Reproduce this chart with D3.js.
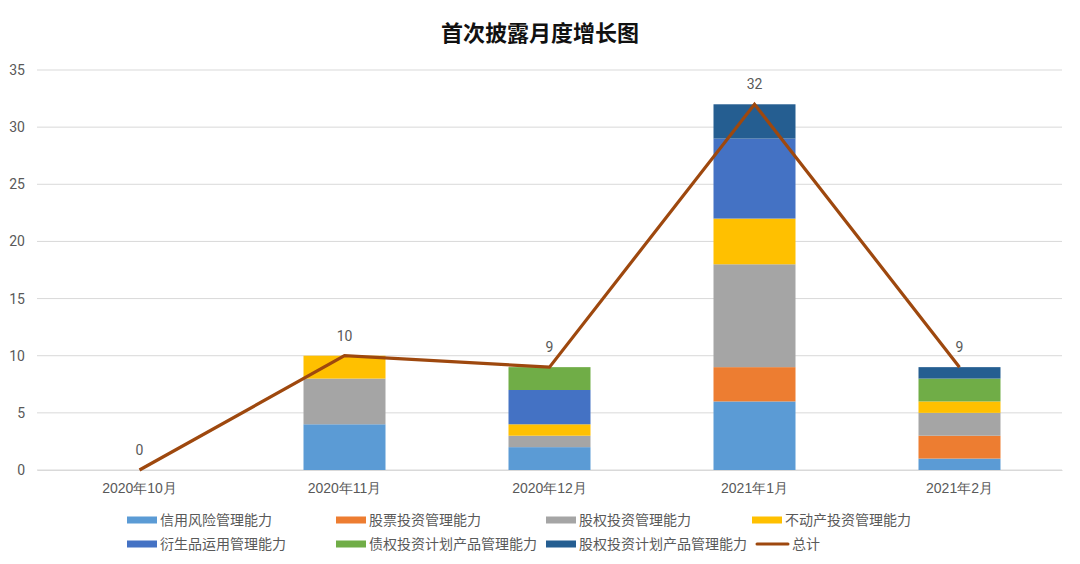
<!DOCTYPE html>
<html><head><meta charset="utf-8">
<script src="https://cdn.jsdelivr.net/npm/d3@7"></script>
<style>
body{margin:0;background:#fff;}
svg{display:block;font-family:"Noto Sans CJK SC","Noto Sans",sans-serif;}
</style></head>
<body><svg id="c" width="1080" height="564"></svg>
<script>
const categories = ["2020年10月","2020年11月","2020年12月","2021年1月","2021年2月"];
const seriesNames = ["信用风险管理能力","股票投资管理能力","股权投资管理能力","不动产投资管理能力","衍生品运用管理能力","债权投资计划产品管理能力","股权投资计划产品管理能力"];
const creditRisk = [0,4,2,6,1];
const stock = [0,0,0,3,2];
const equity = [0,4,1,9,2];
const realEstate = [0,2,1,4,1];
const derivatives = [0,0,3,7,0];
const debtPlan = [0,0,2,0,2];
const equityPlan = [0,0,0,3,1];
const total = [0,10,9,32,9];
const yTicks = [0,5,10,15,20,25,30,35];
const colors = ["#5B9BD5","#ED7D31","#A5A5A5","#FFC000","#4472C4","#70AD47","#255E91"];
const lineColor = "#9E480E";
const lineName = "总计";

(function(){
const seriesVals = [creditRisk,stock,equity,realEstate,derivatives,debtPlan,equityPlan];
const svg = d3.select("#c");
const pl = 37, pr = 1062, pt = 70, pb = 470;

const x = d3.scaleBand().domain(categories).range([pl,pr]).paddingInner(0.6).paddingOuter(0.3);
const y = d3.scaleLinear().domain([0,35]).range([pb,pt]);

// title
svg.append("text").attr("x",540).attr("y",41).attr("text-anchor","middle")
  .attr("font-size",22).attr("font-weight","bold").attr("fill","#111").text("首次披露月度增长图");

// gridlines
svg.append("g").selectAll("line").data(yTicks).join("line")
  .attr("x1",pl).attr("x2",pr).attr("y1",d=>y(d)).attr("y2",d=>y(d))
  .attr("stroke","#d9d9d9").attr("stroke-width",1);

// y axis labels
const yAxis = d3.axisLeft(y).tickValues(yTicks).tickSize(0).tickPadding(0);
const yg = svg.append("g").attr("transform",`translate(25,0)`).call(yAxis);
yg.select(".domain").remove();
yg.selectAll("text").attr("font-size",14).attr("fill","#595959").attr("font-family","Roboto, 'Noto Sans', sans-serif");

// stacked bars
const table = categories.map((c,i)=>{const o={cat:c}; seriesNames.forEach((s,j)=>o[s]=seriesVals[j][i]); return o;});
const stacked = d3.stack().keys(seriesNames)(table);
svg.append("g").selectAll("g").data(stacked).join("g").attr("fill",(d,i)=>colors[i])
  .selectAll("rect").data(d=>d).join("rect")
  .attr("x",d=>x(d.data.cat)).attr("width",x.bandwidth())
  .attr("y",d=>y(d[1])).attr("height",d=>Math.max(0,y(d[0])-y(d[1])));

// x axis
const xAxis = d3.axisBottom(x).tickSize(0).tickPadding(13);
const xg = svg.append("g").attr("transform",`translate(0,${pb})`).call(xAxis);
xg.select(".domain").attr("stroke","#d9d9d9");
xg.selectAll("text").attr("font-size",14).attr("fill","#595959");

// line
const line = d3.line().x((d,i)=>x(categories[i])+x.bandwidth()/2).y(d=>y(d));
svg.append("path").datum(total).attr("d",line).attr("fill","none")
  .attr("stroke",lineColor).attr("stroke-width",3.2).attr("stroke-linejoin","miter");

// data labels
svg.append("g").selectAll("text").data(total).join("text")
  .attr("x",(d,i)=>x(categories[i])+x.bandwidth()/2).attr("y",d=>y(d)-15)
  .attr("text-anchor","middle").attr("font-size",14).attr("fill","#595959")
  .attr("font-family","Roboto, 'Noto Sans', sans-serif").text(d=>d);

// legend
const legendItems = seriesNames.map((n,i)=>({name:n,color:colors[i],type:"rect"})).concat([{name:lineName,color:lineColor,type:"line"}]);
const colX = [127,336,546,752];
const rowY = [520,544];
const lg = svg.append("g");
legendItems.forEach((it,i)=>{
  const cx = colX[i%4], cy = rowY[Math.floor(i/4)];
  if(it.type==="rect"){
    lg.append("rect").attr("x",cx).attr("y",cy-3.5).attr("width",30).attr("height",7).attr("fill",it.color);
  } else {
    lg.append("line").attr("x1",cx+5).attr("x2",cx+36).attr("y1",cy).attr("y2",cy).attr("stroke",it.color).attr("stroke-width",3).attr("stroke-linecap","round");
  }
  lg.append("text").attr("x",cx+(it.type==="line"?40:33)).attr("y",cy).attr("dy","0.35em")
    .attr("font-size",14).attr("fill","#595959").text(it.name);
});
})();
</script></body></html>
